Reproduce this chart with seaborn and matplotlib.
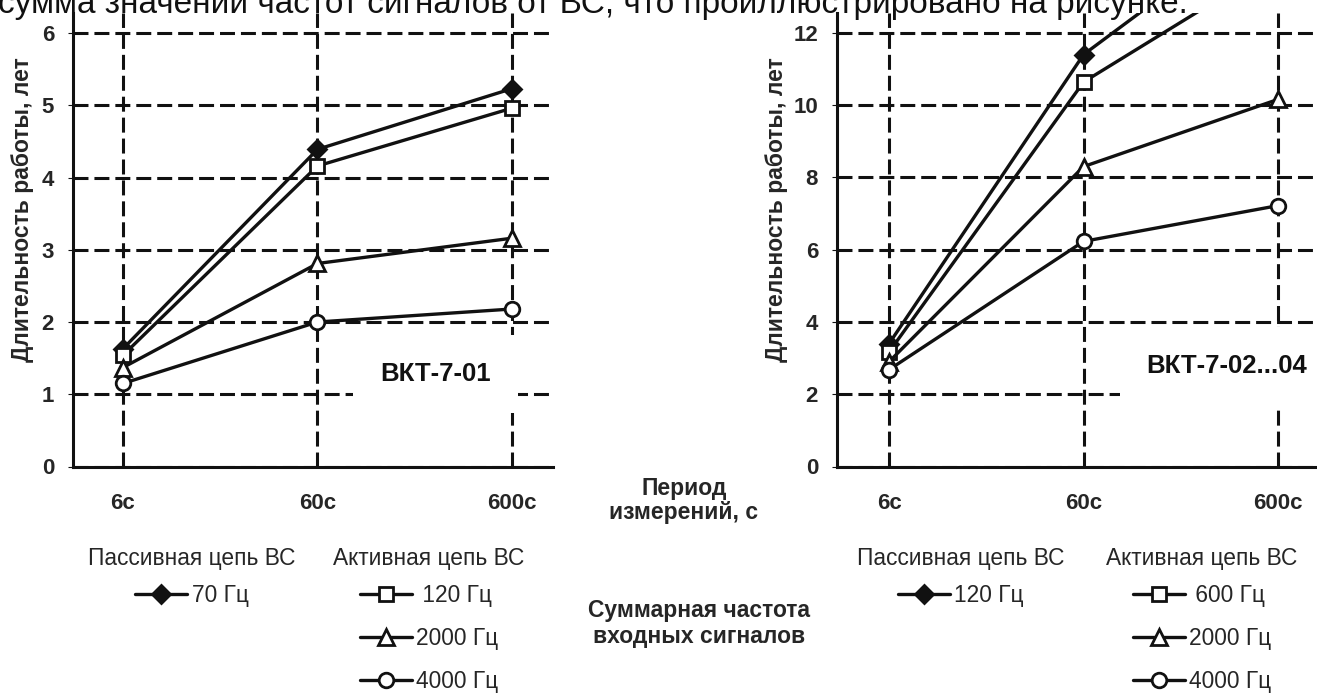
# Длительность работы ВКТ-7 в зависимости от периода измерений
import matplotlib
matplotlib.use('Agg')
import matplotlib.pyplot as plt
import matplotlib.ticker as mticker
import seaborn as sns

# --- data ---
periods = [6, 60, 600]
period_labels = ['6с', '60с', '600с']

# ВКТ-7-01
vkt01_labels = ['70 Гц', ' 120 Гц', '2000 Гц', '4000 Гц']
vkt01_passive_70 = [1.63, 4.39, 5.23]
vkt01_active_120 = [1.54, 4.16, 4.96]
vkt01_active_2000 = [1.37, 2.81, 3.16]
vkt01_active_4000 = [1.15, 2.00, 2.18]

# ВКТ-7-02...04 (two top lines run past the top of the axes)
vkt02_labels = ['120 Гц', ' 600 Гц', '2000 Гц', '4000 Гц']
vkt02_passive_120 = [3.40, 11.40, 15.40]
vkt02_active_600 = [3.17, 10.64, 13.95]
vkt02_active_2000 = [2.90, 8.30, 10.16]
vkt02_active_4000 = [2.68, 6.23, 7.22]

sns.set_style('white')
plt.rcParams['font.family'] = ['Liberation Sans', 'DejaVu Sans']

INK = '#111111'
W, H = 1317, 695

# marker style per series: diamond filled, the rest hollow
styles = [
    dict(marker='D', markersize=9.5, markerfacecolor=INK),
    dict(marker='s', markersize=9.5, markerfacecolor='white'),
    dict(marker='^', markersize=11, markerfacecolor='white'),
    dict(marker='o', markersize=10.5, markerfacecolor='white'),
]


def draw_panel(ax, series, labels, xlim, ylim, yticks, tag, tag_xy):
    lines = []
    for vals, lab, st in zip(series, labels, styles):
        sns.lineplot(x=periods, y=vals, ax=ax, color=INK, linewidth=2.4,
                     markeredgecolor=INK, markeredgewidth=2.0, label=lab,
                     zorder=3, **st)
        lines.append(ax.lines[-1])
    if ax.get_legend() is not None:
        ax.get_legend().remove()

    ax.set_xscale('log')
    ax.set_xlim(*xlim)
    ax.set_ylim(*ylim)
    ax.xaxis.set_minor_locator(mticker.NullLocator())
    ax.set_xticks(periods, period_labels, fontsize=16, fontweight='bold')
    ax.set_yticks(yticks, [str(v) for v in yticks], fontsize=16, fontweight='bold')
    ax.tick_params(axis='x', length=0, pad=19)
    ax.tick_params(axis='y', length=3.6, width=0.8, color=INK, pad=10, left=True)

    ax.set_axisbelow(True)
    ax.grid(True, color=INK, linewidth=2.2, linestyle=(0, (4.9, 1.95)))
    for side in ['top', 'right']:
        ax.spines[side].set_visible(False)
    for side in ['left', 'bottom']:
        ax.spines[side].set_linewidth(2.2)
        ax.spines[side].set_color(INK)

    ax.set_xlabel('')
    ax.set_ylabel('Длительность работы, лет', fontsize=16.5, fontweight='bold', va='center')

    # white box behind the tag breaks the grid like in the original
    ax.text(tag_xy[0], tag_xy[1], tag, transform=ax.transAxes, ha='center', va='center',
            fontsize=18.5, fontweight='bold', color=INK, zorder=4,
            bbox=dict(boxstyle='square,pad=1.05', facecolor='white', edgecolor='none'))
    return lines


fig = plt.figure(figsize=(W / 100, H / 100), dpi=100)
ax_bottom = (H - 466.5) / H
ax_height = 453.5 / H
ax1 = fig.add_axes([73 / W, ax_bottom, 480 / W, ax_height])
ax2 = fig.add_axes([837 / W, ax_bottom, 480 / W, ax_height])

lines1 = draw_panel(ax1, [vkt01_passive_70, vkt01_active_120, vkt01_active_2000, vkt01_active_4000],
                    vkt01_labels, (3.32, 975), (0, 6.277), [0, 1, 2, 3, 4, 5, 6],
                    'ВКТ-7-01', (0.755, 0.205))
lines2 = draw_panel(ax2, [vkt02_passive_120, vkt02_active_600, vkt02_active_2000, vkt02_active_4000],
                    vkt02_labels, (3.24, 951), (0, 12.55), [0, 2, 4, 6, 8, 10, 12],
                    'ВКТ-7-02...04', (0.8125, 0.222))

ax1.yaxis.set_label_coords(-0.106, 0.566)
ax2.yaxis.set_label_coords(-0.127, 0.566)

# legends: a title text and the entries below it
leg_kw = dict(loc='upper center', frameon=False, fontsize=16.4, handlelength=2.28,
              handletextpad=0.2, labelspacing=0.88, borderpad=0, borderaxespad=0)
for lines, labels, px in [(lines1, vkt01_labels, (192, 429)),
                          (lines2, vkt02_labels, (961, 1202))]:
    fig.text(px[0] / W, 1 - 558 / H, 'Пассивная цепь ВС', ha='center', va='center', fontsize=16.4)
    fig.text(px[1] / W, 1 - 558 / H, 'Активная цепь ВС', ha='center', va='center', fontsize=16.4)
    fig.legend(handles=lines[:1], labels=labels[:1],
               bbox_to_anchor=(px[0] / W, 1 - 584 / H), **leg_kw)
    fig.legend(handles=lines[1:], labels=labels[1:],
               bbox_to_anchor=(px[1] / W, 1 - 584 / H), **leg_kw)

# axis captions between the two panels
fig.text(684 / W, 1 - 488 / H, 'Период', ha='center', va='center', fontsize=16.5, fontweight='bold')
fig.text(684 / W, 1 - 513 / H, 'измерений, с', ha='center', va='center', fontsize=16.5, fontweight='bold')
fig.text(699 / W, 1 - 610 / H, 'Суммарная частота', ha='center', va='center', fontsize=16.5, fontweight='bold')
fig.text(699 / W, 1 - 637 / H, 'входных сигналов', ha='center', va='center', fontsize=16.5, fontweight='bold')

# cut-off line of body text above the figure (clipped at the top, as in the source scan)
fig.text(-2 / W, 1 - 13 / H, 'сумма значений частот сигналов от ВС, что проиллюстрировано на рисунке.',
         ha='left', va='baseline', fontsize=24, color=INK)

fig.savefig('out.png', dpi=100)
